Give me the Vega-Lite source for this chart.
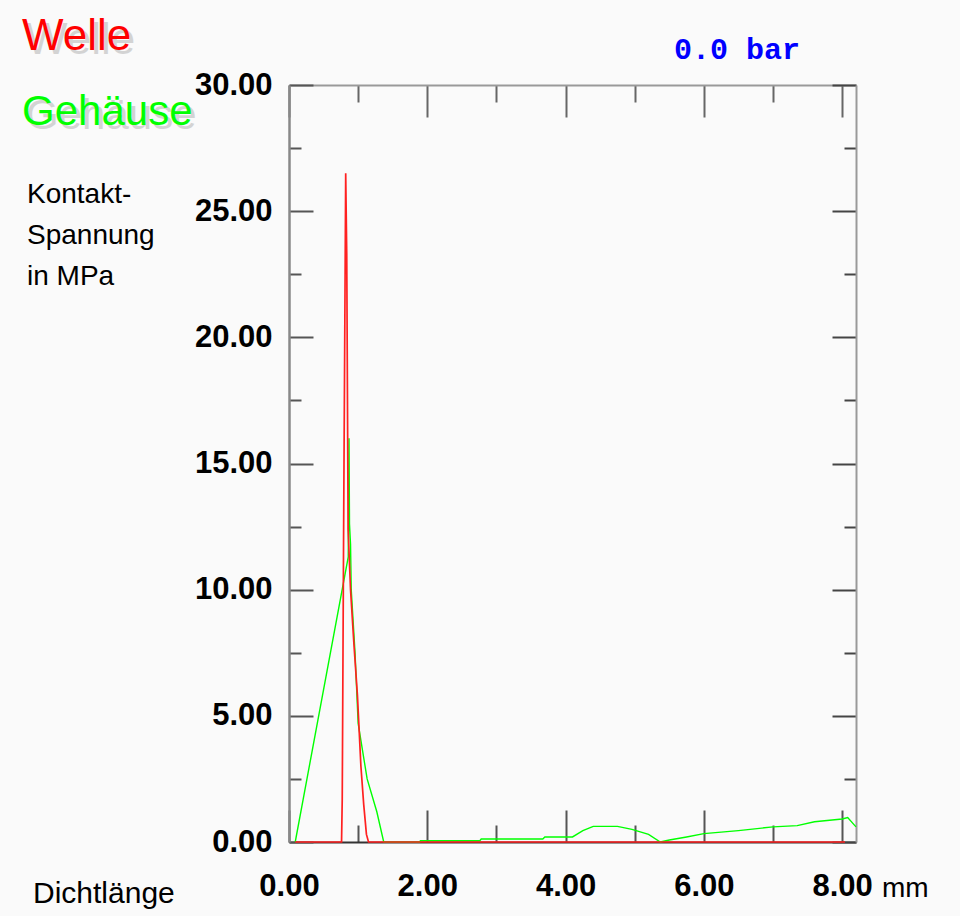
{
  "$schema": "https://vega.github.io/schema/vega-lite/v6.json",
  "width": 567,
  "height": 757,
  "autosize": {"type": "none"},
  "padding": {"left": 289, "top": 85, "right": 104, "bottom": 74},
  "background": "#fafafa",
  "config": {"view": {"stroke": null}, "axis": {"grid": false}},
  "datasets": {
    "curves": [
      {"series": "Gehäuse", "x": 0.09, "y": 0},
      {"series": "Gehäuse", "x": 0.857, "y": 11.3},
      {"series": "Gehäuse", "x": 0.868, "y": 16.0},
      {"series": "Gehäuse", "x": 0.875, "y": 12.6},
      {"series": "Gehäuse", "x": 0.89, "y": 11.8},
      {"series": "Gehäuse", "x": 0.9, "y": 10.0},
      {"series": "Gehäuse", "x": 0.955, "y": 7.5},
      {"series": "Gehäuse", "x": 1.0, "y": 4.7},
      {"series": "Gehäuse", "x": 1.13, "y": 2.5},
      {"series": "Gehäuse", "x": 1.27, "y": 1.2},
      {"series": "Gehäuse", "x": 1.37, "y": 0},
      {"series": "Gehäuse", "x": 1.89, "y": 0},
      {"series": "Gehäuse", "x": 1.9, "y": 0.05},
      {"series": "Gehäuse", "x": 2.76, "y": 0.05},
      {"series": "Gehäuse", "x": 2.78, "y": 0.12},
      {"series": "Gehäuse", "x": 3.67, "y": 0.12},
      {"series": "Gehäuse", "x": 3.7, "y": 0.2},
      {"series": "Gehäuse", "x": 4.1, "y": 0.2},
      {"series": "Gehäuse", "x": 4.25, "y": 0.45},
      {"series": "Gehäuse", "x": 4.4, "y": 0.62},
      {"series": "Gehäuse", "x": 4.75, "y": 0.62},
      {"series": "Gehäuse", "x": 4.96, "y": 0.5},
      {"series": "Gehäuse", "x": 5.2, "y": 0.3},
      {"series": "Gehäuse", "x": 5.37, "y": 0},
      {"series": "Gehäuse", "x": 5.5, "y": 0.08},
      {"series": "Gehäuse", "x": 5.75, "y": 0.2},
      {"series": "Gehäuse", "x": 6.0, "y": 0.33},
      {"series": "Gehäuse", "x": 6.5, "y": 0.45},
      {"series": "Gehäuse", "x": 7.0, "y": 0.6},
      {"series": "Gehäuse", "x": 7.35, "y": 0.65},
      {"series": "Gehäuse", "x": 7.6, "y": 0.8},
      {"series": "Gehäuse", "x": 8.0, "y": 0.91},
      {"series": "Gehäuse", "x": 8.08, "y": 0.97},
      {"series": "Gehäuse", "x": 8.2, "y": 0.6},
      {"series": "Welle", "x": 0.09, "y": 0},
      {"series": "Welle", "x": 0.76, "y": 0},
      {"series": "Welle", "x": 0.77, "y": 1.7},
      {"series": "Welle", "x": 0.79, "y": 12.4},
      {"series": "Welle", "x": 0.82, "y": 26.5},
      {"series": "Welle", "x": 0.835, "y": 23.3},
      {"series": "Welle", "x": 0.855, "y": 12.4},
      {"series": "Welle", "x": 0.89, "y": 10.0},
      {"series": "Welle", "x": 0.94, "y": 7.8},
      {"series": "Welle", "x": 0.99, "y": 5.8},
      {"series": "Welle", "x": 1.04, "y": 3.0},
      {"series": "Welle", "x": 1.08, "y": 1.5},
      {"series": "Welle", "x": 1.12, "y": 0.3},
      {"series": "Welle", "x": 1.15, "y": 0},
      {"series": "Welle", "x": 8.04, "y": 0}
    ]
  },
  "layer": [
    {
      "data": {"name": "curves"},
      "mark": {"type": "line"},
      "encoding": {
        "x": {
          "field": "x", "type": "quantitative",
          "scale": {"domain": [0, 8.2], "nice": false, "zero": false},
          "axis": {
            "orient": "bottom", "title": null,
            "values": [0, 1, 2, 3, 4, 5, 6, 7, 8],
            "labelExpr": "datum.value % 2 === 0 ? format(datum.value, '.2f') : ''",
            "tickSize": {"condition": {"test": "datum.value % 2 === 0", "value": -32}, "value": -17},
            "tickColor": "#555", "tickWidth": 2,
            "domainColor": "#333", "domainWidth": 2,
            "labelFont": "Liberation Sans", "labelFontWeight": "bold", "labelFontSize": 31,
            "labelColor": "#000", "labelPadding": 61, "labelBaseline": "top",
            "labelFlush": false, "labelOverlap": false
          }
        },
        "y": {
          "field": "y", "type": "quantitative",
          "scale": {"domain": [0, 30], "nice": false, "zero": false},
          "axis": {
            "orient": "left", "title": null,
            "values": [0, 2.5, 5, 7.5, 10, 12.5, 15, 17.5, 20, 22.5, 25, 27.5, 30],
            "labelExpr": "datum.value % 5 === 0 ? format(datum.value, '.2f') : ''",
            "tickSize": {"condition": {"test": "datum.value % 5 === 0", "value": -24}, "value": -12},
            "tickColor": "#555", "tickWidth": 2,
            "domainColor": "#888", "domainWidth": 2.5,
            "labelFont": "Liberation Sans", "labelFontWeight": "bold", "labelFontSize": 31,
            "labelColor": "#000", "labelPadding": 41, "labelBaseline": "middle",
            "labelFlush": false, "labelOverlap": false
          }
        },
        "color": {
          "field": "series", "type": "nominal",
          "scale": {"domain": ["Gehäuse", "Welle"], "range": ["#00ff00", "#ff2020"]},
          "legend": null
        },
        "strokeWidth": {
          "field": "series", "type": "ordinal",
          "scale": {"domain": ["Gehäuse", "Welle"], "range": [1.4, 1.7]},
          "legend": null
        },
        "order": {"field": "x", "type": "quantitative"}
      }
    },
    {
      "data": {"name": "curves"},
      "mark": {"type": "line", "opacity": 0},
      "encoding": {
        "x": {
          "field": "x", "type": "quantitative",
          "axis": {
            "orient": "top", "title": null, "labels": false,
            "values": [0, 1, 2, 3, 4, 5, 6, 7, 8],
            "tickSize": {"condition": {"test": "datum.value % 2 === 0", "value": -32}, "value": -17},
            "tickColor": "#666", "tickWidth": 2,
            "domainColor": "#999", "domainWidth": 2
          }
        },
        "y": {
          "field": "y", "type": "quantitative",
          "axis": {
            "orient": "right", "title": null, "labels": false,
            "values": [0, 2.5, 5, 7.5, 10, 12.5, 15, 17.5, 20, 22.5, 25, 27.5, 30],
            "tickSize": {"condition": {"test": "datum.value % 5 === 0", "value": -24}, "value": -12},
            "tickColor": "#444", "tickWidth": 2,
            "domainColor": "#999", "domainWidth": 2
          }
        },
        "detail": {"field": "series"}
      }
    },
    {
      "data": {"values": [{"label": "Welle"}]},
      "mark": {"type": "text", "font": "Liberation Sans", "fontSize": 44, "align": "left", "baseline": "alphabetic", "color": "#000", "opacity": 0.15, "dx": 4, "dy": 4},
      "encoding": {
        "x": {"datum": -3.861, "type": "quantitative", "axis": null},
        "y": {"datum": 31.388, "type": "quantitative", "axis": null},
        "text": {"field": "label"}
      }
    },
    {
      "data": {"values": [{"label": "Gehäuse"}]},
      "mark": {"type": "text", "font": "Liberation Sans", "fontSize": 42, "align": "left", "baseline": "alphabetic", "color": "#000", "opacity": 0.15, "dx": 4, "dy": 4},
      "encoding": {
        "x": {"datum": -3.861, "type": "quantitative", "axis": null},
        "y": {"datum": 28.415, "type": "quantitative", "axis": null},
        "text": {"field": "label"}
      }
    },
    {
      "data": {"values": [{"label": "Welle"}]},
      "mark": {"type": "text", "font": "Liberation Sans", "fontSize": 44, "align": "left", "baseline": "alphabetic", "color": "#ff0000"},
      "encoding": {
        "x": {"datum": -3.861, "type": "quantitative", "axis": null},
        "y": {"datum": 31.388, "type": "quantitative", "axis": null},
        "text": {"field": "label"}
      }
    },
    {
      "data": {"values": [{"label": "Gehäuse"}]},
      "mark": {"type": "text", "font": "Liberation Sans", "fontSize": 42, "align": "left", "baseline": "alphabetic", "color": "#00ff00"},
      "encoding": {
        "x": {"datum": -3.861, "type": "quantitative", "axis": null},
        "y": {"datum": 28.415, "type": "quantitative", "axis": null},
        "text": {"field": "label"}
      }
    },
    {
      "data": {"values": [{"label": "Kontakt-\nSpannung\nin MPa"}]},
      "mark": {"type": "text", "font": "Liberation Sans", "fontSize": 28, "align": "left", "baseline": "alphabetic", "color": "#000", "lineBreak": "\n", "lineHeight": 41},
      "encoding": {
        "x": {"datum": -3.789, "type": "quantitative", "axis": null},
        "y": {"datum": 25.324, "type": "quantitative", "axis": null},
        "text": {"field": "label"}
      }
    },
    {
      "data": {"values": [{"label": "Dichtlänge"}]},
      "mark": {"type": "text", "font": "Liberation Sans", "fontSize": 30, "align": "left", "baseline": "alphabetic", "color": "#000"},
      "encoding": {
        "x": {"datum": -3.702, "type": "quantitative", "axis": null},
        "y": {"datum": -2.417, "type": "quantitative", "axis": null},
        "text": {"field": "label"}
      }
    },
    {
      "data": {"values": [{"label": "mm"}]},
      "mark": {"type": "text", "font": "Liberation Sans", "fontSize": 28, "align": "left", "baseline": "alphabetic", "color": "#000"},
      "encoding": {
        "x": {"datum": 8.576, "type": "quantitative", "axis": null},
        "y": {"datum": -2.18, "type": "quantitative", "axis": null},
        "text": {"field": "label"}
      }
    },
    {
      "data": {"values": [{"label": "0.0 bar"}]},
      "mark": {"type": "text", "font": "Liberation Mono", "fontWeight": "bold", "fontSize": 30, "align": "center", "baseline": "alphabetic", "color": "#0000ff"},
      "encoding": {
        "x": {"datum": 6.479, "type": "quantitative", "axis": null},
        "y": {"datum": 31.03, "type": "quantitative", "axis": null},
        "text": {"field": "label"}
      }
    }
  ],
  "resolve": {"axis": {"x": "independent", "y": "independent"}}
}
